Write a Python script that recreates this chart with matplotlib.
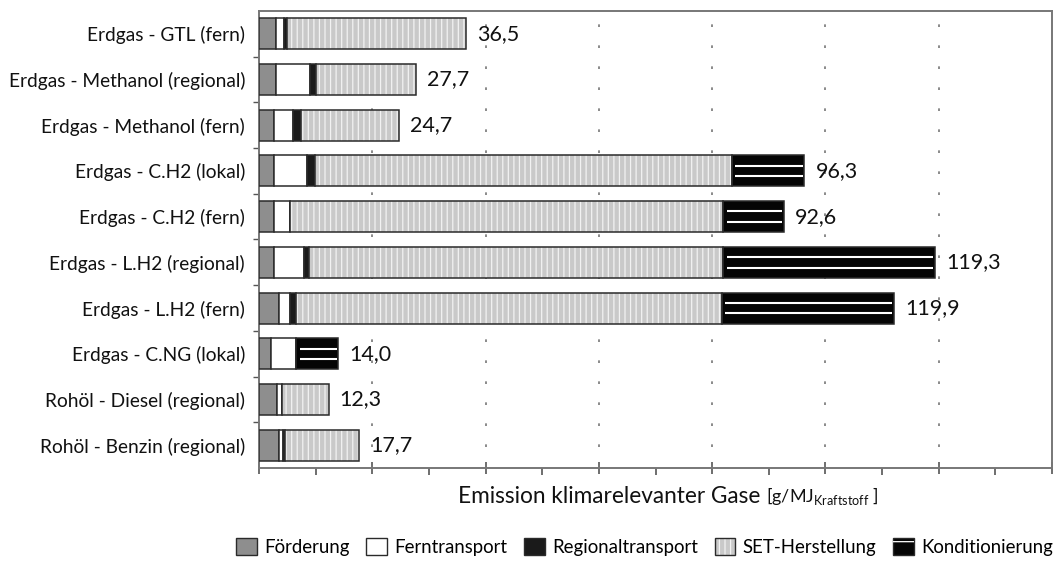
import matplotlib
matplotlib.use("Agg")
import matplotlib.pyplot as plt
from matplotlib.patches import Patch
from matplotlib.legend_handler import HandlerTuple
from matplotlib.ticker import MultipleLocator, FixedLocator, NullFormatter
import numpy as np

plt.rcParams['font.family'] = ['Lato', 'DejaVu Sans']
plt.rcParams['hatch.linewidth'] = 0.9

categories = ["Erdgas - GTL (fern)", "Erdgas - Methanol (regional)", "Erdgas - Methanol (fern)",
              "Erdgas - C.H2 (lokal)", "Erdgas - C.H2 (fern)", "Erdgas - L.H2 (regional)",
              "Erdgas - L.H2 (fern)", "Erdgas - C.NG (lokal)", "Rohöl - Diesel (regional)",
              "Rohöl - Benzin (regional)"]
foerderung = [3.0, 3.0, 2.6, 2.6, 2.7, 2.6, 3.6, 2.2, 3.2, 3.5]
ferntransport = [1.4, 6.0, 3.4, 5.8, 2.8, 5.3, 1.9, 4.4, 0.8, 0.7]
regionaltransport = [0.6, 1.1, 1.5, 1.5, 0.0, 1.0, 1.1, 0.0, 0.0, 0.4]
set_herstellung = [31.5, 17.6, 17.2, 73.6, 76.5, 73.1, 75.1, 0.0, 8.3, 13.1]
konditionierung = [0.0, 0.0, 0.0, 12.8, 10.6, 37.3, 30.4, 7.4, 0.0, 0.0]
total_labels = ["36,5", "27,7", "24,7", "96,3", "92,6", "119,3", "119,9", "14,0", "12,3", "17,7"]
series_names = ["Förderung", "Ferntransport", "Regionaltransport", "SET-Herstellung", "Konditionierung"]

W, H = 1064, 567
fig = plt.figure(figsize=(W / 100, H / 100), dpi=100)
ax = fig.add_axes([259 / W, 1 - 468 / H, (1052 - 259) / W, (468 - 11) / H])

y = np.arange(len(categories))
h = 0.68
edge = '#2a2a2a'
lw = 1.1

c_foerd = '#8e8e8e'
c_fern = 'white'
c_reg = '#1a1a1a'
c_set = '#c9c9c9'
c_kond = '#050505'

left = np.zeros(len(categories))
ax.barh(y, foerderung, h, left=left, color=c_foerd, edgecolor=edge, linewidth=lw, zorder=3)
left += np.array(foerderung)
ax.barh(y, ferntransport, h, left=left, color=c_fern, edgecolor=edge, linewidth=lw, zorder=3)
left += np.array(ferntransport)
ax.barh(y, regionaltransport, h, left=left, color=c_reg, edgecolor=edge, linewidth=lw, zorder=3)
left += np.array(regionaltransport)
setv = np.array(set_herstellung)
m = setv > 0
ax.barh(y[m], setv[m], h, left=left[m], color=c_set, edgecolor='#f2f2f2', hatch='|||', linewidth=0, zorder=3)
ax.barh(y[m], setv[m], h, left=left[m], color='none', edgecolor=edge, linewidth=lw, zorder=4)
left += setv
kv = np.array(konditionierung)
mk = kv > 0
ax.barh(y[mk], kv[mk], h, left=left[mk], color=c_kond, edgecolor=edge, linewidth=lw, zorder=3)
for yy, l0, wv in zip(y[mk], left[mk], kv[mk]):
    for off in (-h / 6, h / 6):
        ax.hlines(yy + off, l0 + 0.6, l0 + wv - 0.3, colors='white', linewidth=1.5, zorder=5)
left += kv

for yy, tot, lab in zip(y, left, total_labels):
    ax.annotate(lab, xy=(tot, yy), xytext=(8, 0), textcoords='offset points',
                ha='left', va='center', fontsize=15.5, color='#111111', zorder=6)

ax.set_xlim(0, 140)
ax.set_ylim(len(categories) - 0.5, -0.5)
ax.set_yticks(y)
ax.set_yticklabels(categories, fontsize=13.8, color='#111111')
ax.yaxis.set_minor_locator(FixedLocator(y[:-1] + 0.5))
ax.tick_params(axis='y', which='major', length=0, pad=10)
ax.tick_params(axis='y', which='minor', length=4, width=1, color='#555555')
ax.xaxis.set_major_locator(MultipleLocator(20))
ax.xaxis.set_minor_locator(MultipleLocator(10))
ax.xaxis.set_major_formatter(NullFormatter())
ax.tick_params(axis='x', which='major', direction='inout', length=9, width=1.2, color='#555555')
ax.tick_params(axis='x', which='minor', direction='out', length=5, width=1.2, color='#555555')

for v in range(20, 140, 20):
    ax.axvline(v, color='#777777', linewidth=1.2, linestyle=(0, (1.6, 11)), zorder=2)

for s in ax.spines.values():
    s.set_color('#777777')
    s.set_linewidth(1.4)

# x label
t1 = fig.text(760 / W, 1 - 503 / H, "Emission klimarelevanter Gase", ha='right', va='baseline',
              fontsize=16.3, color='#111111')
ax.annotate("[g/MJ$_{\\mathregular{Kraftstoff}}$ ]", xy=(1, 0), xycoords=t1, xytext=(4, 0),
            textcoords='offset points', ha='left', va='bottom', fontsize=13, color='#111111')

# legend
handles = [
    Patch(facecolor=c_foerd, edgecolor=edge, linewidth=1),
    Patch(facecolor=c_fern, edgecolor=edge, linewidth=1),
    Patch(facecolor=c_reg, edgecolor=edge, linewidth=1),
    (Patch(facecolor=c_set, edgecolor='#f2f2f2', hatch='|||', linewidth=0),
     Patch(facecolor='none', edgecolor=edge, linewidth=1)),
    (Patch(facecolor=c_kond, edgecolor=edge, linewidth=1),
     Patch(facecolor='none', edgecolor='white', hatch='-', linewidth=0)),
]
fig.legend(handles, series_names, loc='lower right', bbox_to_anchor=(1.0, 0.0), ncol=5,
           frameon=False, fontsize=13.4, handlelength=1.1, handleheight=1.1,
           handletextpad=0.4, columnspacing=0.9, borderaxespad=0.2,
           handler_map={tuple: HandlerTuple(ndivide=1, pad=0)})

fig.savefig("out.png", dpi=100)
